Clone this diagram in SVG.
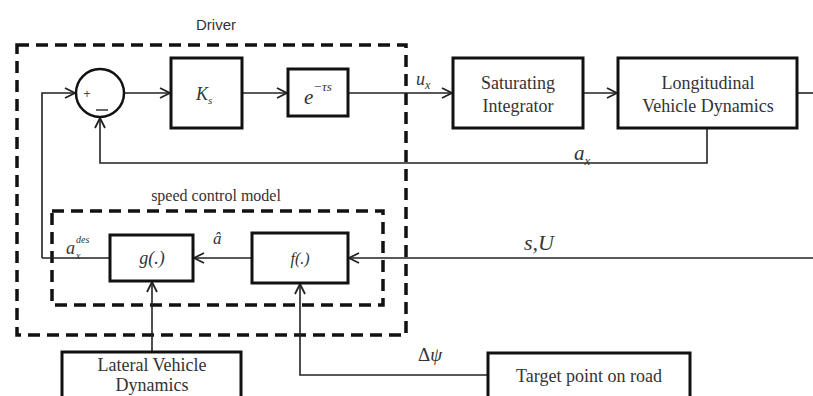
<svg xmlns="http://www.w3.org/2000/svg" width="813" height="396" viewBox="0 0 813 396">
<style>
.box{fill:#fff;stroke:#111;stroke-width:3}
.dash{fill:none;stroke:#111;stroke-width:3.5;stroke-dasharray:12 7}
.ln{fill:none;stroke:#222;stroke-width:1.6}
.t{font-family:'Liberation Serif','Times New Roman','DejaVu Serif',serif;font-size:18px;fill:#333;text-anchor:middle}
.m{font-family:'Liberation Serif','Times New Roman','DejaVu Serif',serif;font-style:italic;fill:#333}
.s{font-family:'Liberation Sans',Arial,sans-serif;font-size:15px;fill:#333;text-anchor:middle}
</style>
<defs>
<marker id="arr" viewBox="0 0 12 12" refX="11" refY="6" markerWidth="12" markerHeight="12" markerUnits="userSpaceOnUse" orient="auto">
<path d="M1,1 L11,6 L1,11" fill="none" stroke="#222" stroke-width="1.8"/>
</marker>
</defs>
<rect width="813" height="396" fill="#fff"/>
<g id="driver">
<rect class="dash" x="17" y="45" width="389" height="290"/>
<text class="s" x="216" y="30">Driver</text>
</g>
<g id="speed-control">
<rect class="dash" x="52" y="211" width="331" height="94"/>
<text class="t" x="216" y="201" style="font-size:16px">speed control model</text>
</g>
<g id="connectors">
<path class="ln" d="M42,258 V93 H75" marker-end="url(#arr)"/>
<path class="ln" d="M125,93 H170" marker-end="url(#arr)"/>
<path class="ln" d="M242,93 H287" marker-end="url(#arr)"/>
<path class="ln" d="M348,93 H452" marker-end="url(#arr)"/>
<path class="ln" d="M583,93 H617" marker-end="url(#arr)"/>
<path class="ln" d="M797,93 H813"/>
<path class="ln" d="M707,128 V163 H100 V118" marker-end="url(#arr)"/>
<path class="ln" d="M110,258 H42"/>
<path class="ln" d="M252,258 H194" marker-end="url(#arr)"/>
<path class="ln" d="M813,258 H349" marker-end="url(#arr)"/>
<path class="ln" d="M152,352 V282" marker-end="url(#arr)"/>
<path class="ln" d="M488,375 H300 V284" marker-end="url(#arr)"/>
</g>
<g id="sum">
<circle cx="100" cy="93" r="24" fill="#fff" stroke="#111" stroke-width="2.5"/>
<text x="87" y="98" style="font-family:'Liberation Sans',sans-serif;font-size:12px;fill:#444" text-anchor="middle">+</text>
<path d="M96,110 H108" stroke="#333" stroke-width="1.5"/>
</g>
<g id="ks">
<rect class="box" x="171" y="58" width="71" height="70"/>
<text class="m" x="196" y="100" font-size="18">K<tspan font-size="11" dy="4">s</tspan></text>
</g>
<g id="delay">
<rect class="box" x="288" y="69" width="60" height="47"/>
<text class="m" x="304" y="104" font-size="21">e<tspan font-size="13" dy="-13">−τs</tspan></text>
</g>
<g id="sat">
<rect class="box" x="453" y="58" width="130" height="70"/>
<text class="t" x="518" y="89">Saturating</text>
<text class="t" x="518" y="112">Integrator</text>
</g>
<g id="long">
<rect class="box" x="618" y="58" width="179" height="70"/>
<text class="t" x="708" y="89">Longitudinal</text>
<text class="t" x="708" y="112">Vehicle Dynamics</text>
</g>
<g id="g">
<rect class="box" x="110" y="235" width="83" height="46"/>
<text class="m" x="152" y="264" font-size="18" text-anchor="middle">g(.)</text>
</g>
<g id="f">
<rect class="box" x="252" y="233" width="96" height="50"/>
<text class="m" x="300" y="264" font-size="16" text-anchor="middle">f(.)</text>
</g>
<g id="lateral">
<rect class="box" x="62" y="352" width="179" height="50"/>
<text class="t" x="152" y="371">Lateral Vehicle</text>
<text class="t" x="152" y="391">Dynamics</text>
</g>
<g id="target">
<rect class="box" x="488" y="353" width="202" height="50"/>
<text class="t" x="589" y="382">Target point on road</text>
</g>
<g id="labels">
<text class="m" x="416" y="85" font-size="18">u<tspan font-size="12" dy="4">x</tspan></text>
<text class="m" x="574" y="160" font-size="21">a<tspan font-size="13" dy="5">x</tspan></text>
<text class="m" x="66" y="254" font-size="18">a</text>
<text class="m" x="76" y="259" font-size="10">x</text>
<text class="m" x="76" y="243" font-size="10">des</text>
<text class="m" x="213" y="244" font-size="17">â</text>
<text class="m" x="524" y="250" font-size="22">s,U</text>
<text x="418" y="361" style="font-family:'Liberation Serif','Times New Roman',serif;font-size:19px;fill:#333">Δ<tspan font-style="italic">ψ</tspan></text>
</g>
</svg>
